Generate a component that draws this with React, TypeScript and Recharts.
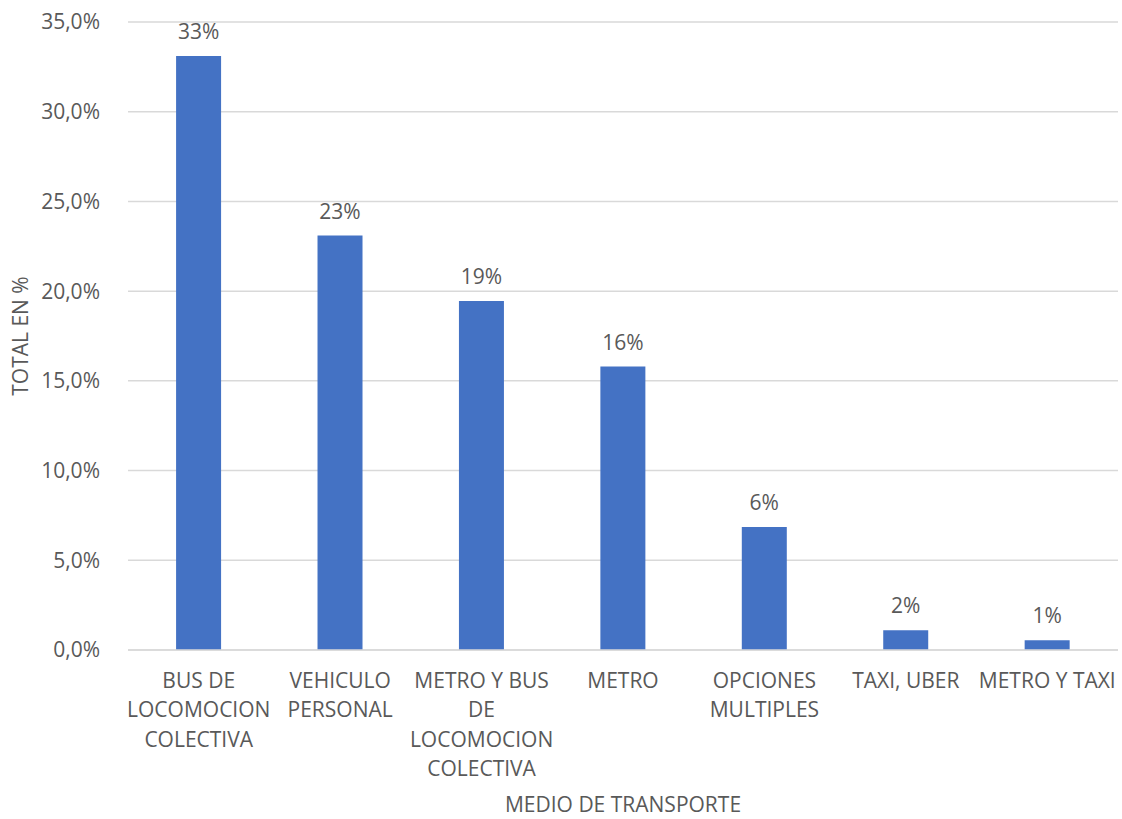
import { BarChart, Bar, XAxis, YAxis, CartesianGrid, LabelList } from "recharts";

// tick labels, already split into lines as in the original chart
const categories = [
  ["BUS DE", "LOCOMOCION", "COLECTIVA"],
  ["VEHICULO", "PERSONAL"],
  ["METRO Y BUS", "DE", "LOCOMOCION", "COLECTIVA"],
  ["METRO"],
  ["OPCIONES", "MULTIPLES"],
  ["TAXI, UBER"],
  ["METRO Y TAXI"],
];
const totals = [33.1, 23.1, 19.45, 15.8, 6.85, 1.1, 0.55];
const valueLabels = ["33%", "23%", "19%", "16%", "6%", "2%", "1%"];
const yTicks = [0, 5, 10, 15, 20, 25, 30, 35];

const data = categories.map((lines, i) => ({
  name: lines.join("\n"),
  total: totals[i],
  label: valueLabels[i],
}));

const FONT = "'Open Sans', sans-serif";
const GREY = "#595959";
const SIZE = 21;

function CategoryTick(props: any) {
  const { x, y, payload } = props;
  const lines = String(payload.value).split("\n");
  return (
    <text x={x} y={y + 15} textAnchor="middle" fill={GREY} fontFamily={FONT} fontSize={SIZE}>
      {lines.map((line, i) => (
        <tspan key={i} x={x} dy={i === 0 ? "0.71em" : 29.5}>
          {line}
        </tspan>
      ))}
    </text>
  );
}

export default function App() {
  return (
    <div style={{ position: "absolute", left: 0, top: 0, background: "#fff" }}>
      <BarChart
        width={1122}
        height={819}
        data={data}
        margin={{ top: 22, right: 4, bottom: 0, left: 0 }}
        barCategoryGap="34%"
      >
        <CartesianGrid vertical={false} stroke="#d9d9d9" strokeWidth={1.5} />
        <XAxis
          dataKey="name"
          interval={0}
          tickLine={false}
          axisLine={{ stroke: "#d9d9d9", strokeWidth: 1.5 }}
          tick={<CategoryTick />}
          height={169}
          label={{
            value: "MEDIO DE TRANSPORTE",
            position: "insideBottom",
            offset: 0,
            dy: -7,
            fill: GREY,
            fontSize: SIZE,
            fontFamily: FONT,
          }}
        />
        <YAxis
          domain={[0, 35]}
          ticks={yTicks}
          tickLine={false}
          axisLine={false}
          width={128}
          tickMargin={22}
          tickFormatter={(v: number) => v.toFixed(1).replace(".", ",") + "%"}
          tick={{ fill: GREY, fontSize: SIZE, fontFamily: FONT }}
          label={{
            value: "TOTAL EN %",
            angle: -90,
            position: "insideLeft",
            offset: 0,
            dx: 21,
            fill: GREY,
            fontSize: SIZE,
            fontFamily: FONT,
            style: { textAnchor: "middle" },
          }}
        />
        <Bar dataKey="total" fill="#4472C4" isAnimationActive={false}>
          <LabelList
            dataKey="label"
            position="top"
            offset={17}
            fill={GREY}
            fontSize={SIZE}
            fontFamily={FONT}
          />
        </Bar>
      </BarChart>
    </div>
  );
}
